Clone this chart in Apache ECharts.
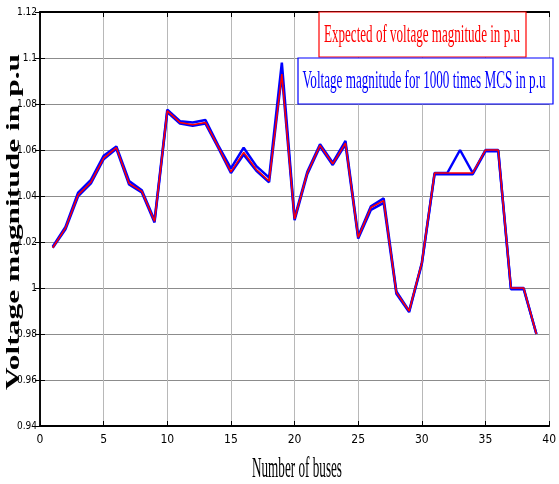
<!DOCTYPE html>
<html>
<head>
<meta charset="utf-8">
<script src="https://cdn.jsdelivr.net/npm/echarts@6/dist/echarts.min.js"></script>
<style>
  html, body { margin: 0; padding: 0; background: #fff; }
  #myChart { width: 559px; height: 484px; }
</style>
</head>
<body>
<div id="myChart"></div>
<script>
let myChart = echarts.init(document.getElementById('myChart'));

// bus numbers 1..39
const buses = [1, 2, 3, 4, 5, 6, 7, 8, 9, 10, 11, 12, 13, 14, 15, 16, 17, 18, 19, 20,
  21, 22, 23, 24, 25, 26, 27, 28, 29, 30, 31, 32, 33, 34, 35, 36, 37, 38, 39];

// expected voltage magnitude (red)
const expected = [1.0175, 1.026, 1.0405, 1.046, 1.0565, 1.061, 1.0455, 1.042, 1.029, 1.077,
  1.072, 1.071, 1.072, 1.0615, 1.0505, 1.059, 1.0515, 1.0465, 1.093, 1.030,
  1.050, 1.062, 1.054, 1.063, 1.022, 1.035, 1.038, 0.998, 0.990, 1.011,
  1.050, 1.050, 1.050, 1.050, 1.060, 1.060, 1.000, 1.000, 0.980];

// MCS band, upper edge (blue)
const mcsUpper = [1.018, 1.0265, 1.0415, 1.047, 1.0575, 1.0615, 1.0465, 1.0425, 1.0295, 1.0775,
  1.0725, 1.072, 1.073, 1.062, 1.052, 1.061, 1.053, 1.048, 1.098, 1.0305,
  1.0505, 1.0625, 1.0545, 1.064, 1.0225, 1.0355, 1.039, 0.9985, 0.990, 1.011,
  1.050, 1.050, 1.060, 1.050, 1.060, 1.060, 1.000, 1.000, 0.980];

// MCS band, lower edge (blue)
const mcsLower = [1.0175, 1.0255, 1.040, 1.0455, 1.056, 1.0605, 1.045, 1.0415, 1.0285, 1.0765,
  1.0715, 1.0705, 1.0715, 1.061, 1.050, 1.058, 1.051, 1.046, 1.093, 1.0295,
  1.0495, 1.0615, 1.0535, 1.0625, 1.0215, 1.034, 1.037, 0.9975, 0.9895, 1.0105,
  1.0495, 1.0495, 1.0495, 1.0495, 1.0595, 1.0595, 0.9995, 0.9995, 0.980];

const legendNames = ['Expected of voltage magnitude in p.u', 'Voltage magnitude for 1000 times MCS in p.u'];

function pairs(values) {
  return buses.map(function (b, i) {
    return [b, values[i]];
  });
}

// squeeze text to a given width, like the stretched original
const ctx = document.createElement('canvas').getContext('2d');
function fitScale(text, font, width) {
  ctx.font = font;
  return width / ctx.measureText(text).width;
}

const serif = "'Liberation Serif', 'Times New Roman', serif";
const narrow = "'Liberation Sans Narrow', 'DejaVu Sans Condensed', 'Liberation Serif', serif";

const yName = 'Voltage magnitude in p.u';
const xName = 'Number of buses';

let myChartOption = {
  animation: false,
  backgroundColor: '#fff',
  grid: {
    left: 40,
    right: 3,
    top: 12,
    bottom: 58,
  },
  xAxis: [
    {
      type: 'value',
      min: 0,
      max: 40,
      interval: 5,
      axisLine: { lineStyle: { color: '#000', width: 2 } },
      axisTick: { inside: true, length: 5, lineStyle: { color: '#000' } },
      axisLabel: { color: '#000', fontSize: 12, fontFamily: narrow, margin: 8 },
      splitLine: { show: true, lineStyle: { color: '#b8b8b8', width: 1 } },
    },
    {
      type: 'value',
      position: 'top',
      min: 0,
      max: 40,
      interval: 5,
      axisLine: { show: true, lineStyle: { color: '#000', width: 2 } },
      axisTick: { inside: true, length: 5, lineStyle: { color: '#000' } },
      axisLabel: { show: false },
      splitLine: { show: false },
    },
  ],
  yAxis: [
    {
      type: 'value',
      min: 0.94,
      max: 1.12,
      interval: 0.02,
      axisLine: { show: true, lineStyle: { color: '#000', width: 1.5 } },
      axisTick: { show: true, inside: true, length: 5, lineStyle: { color: '#000' } },
      axisLabel: { color: '#000', fontSize: 10, fontFamily: narrow, margin: 3 },
      splitLine: { show: true, lineStyle: { color: '#8c8c8c', width: 1.2 } },
    },
    {
      type: 'value',
      position: 'right',
      min: 0.94,
      max: 1.12,
      interval: 0.02,
      axisLine: { show: true, lineStyle: { color: '#000', width: 1.5 } },
      axisTick: { show: true, inside: true, length: 5, lineStyle: { color: '#000' } },
      axisLabel: { show: false },
      splitLine: { show: false },
    },
  ],
  series: [
    {
      name: legendNames[1],
      type: 'line',
      data: pairs(mcsUpper),
      symbol: 'none',
      lineStyle: { color: '#0000ff', width: 2.5 },
      z: 2,
    },
    {
      name: legendNames[1] + ' (low)',
      type: 'line',
      data: pairs(mcsLower),
      symbol: 'none',
      lineStyle: { color: '#0000ff', width: 2.5 },
      z: 2,
    },
    {
      name: legendNames[0],
      type: 'line',
      data: pairs(expected),
      symbol: 'none',
      lineStyle: { color: '#ff0000', width: 1.5 },
      z: 3,
    },
  ],
  graphic: [
    // legend boxes
    {
      type: 'rect',
      shape: { x: 319, y: 12, width: 207, height: 45 },
      style: { fill: '#fff', stroke: '#ff0000', lineWidth: 1.2 },
      z: 10,
    },
    {
      type: 'text',
      x: 422,
      y: 35,
      scaleX: fitScale(legendNames[0], '25px ' + serif, 196),
      style: {
        text: legendNames[0],
        fill: '#ff0000',
        font: '25px ' + serif,
        textAlign: 'center',
        textVerticalAlign: 'middle',
      },
      z: 11,
    },
    {
      type: 'rect',
      shape: { x: 298, y: 58, width: 255, height: 46 },
      style: { fill: '#fff', stroke: '#0000ff', lineWidth: 1.2 },
      z: 10,
    },
    {
      type: 'text',
      x: 424,
      y: 81,
      scaleX: fitScale(legendNames[1], '25px ' + serif, 243),
      style: {
        text: legendNames[1],
        fill: '#0000ff',
        font: '25px ' + serif,
        textAlign: 'center',
        textVerticalAlign: 'middle',
      },
      z: 11,
    },
    // axis titles
    {
      type: 'text',
      x: 14,
      y: 222,
      rotation: Math.PI / 2,
      scaleX: fitScale(yName, 'bold 19px ' + serif, 336),
      style: {
        text: yName,
        fill: '#000',
        font: 'bold 19px ' + serif,
        textAlign: 'center',
        textVerticalAlign: 'middle',
      },
    },
    {
      type: 'text',
      x: 297,
      y: 469,
      scaleX: fitScale(xName, '29px ' + serif, 90),
      style: {
        text: xName,
        fill: '#000',
        font: '29px ' + serif,
        textAlign: 'center',
        textVerticalAlign: 'middle',
      },
    },
  ],
};

myChart.setOption(myChartOption);
</script>
</body>
</html>
